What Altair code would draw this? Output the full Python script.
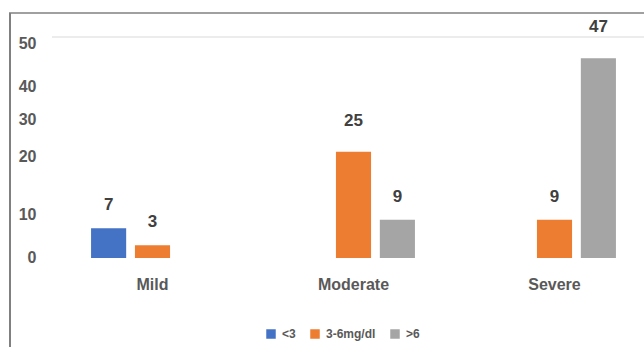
import altair as alt
import pandas as pd

# Patients per severity level, split by serum level group
categories = ["Mild", "Moderate", "Severe"]
groups = ["<3", "3-6mg/dl", ">6"]
below_3 = [7, None, None]
from_3_to_6 = [3, 25, 9]
above_6 = [None, 9, 47]
colors = ["#4472C4", "#ED7D31", "#A5A5A5"]

y_ticks = [0, 10, 20, 30, 40, 50]
y_top = 52

rows = []
for name, series in zip(groups, [below_3, from_3_to_6, above_6]):
    for cat, v in zip(categories, series):
        if v is not None:
            rows.append({"severity": cat, "group": name, "value": v})
df = pd.DataFrame(rows)

FONT = "Liberation Sans"
AXIS_GREY = "#595959"
GRID = "#d9d9d9"

x_enc = alt.X(
    "severity:N",
    sort=categories,
    scale=alt.Scale(range=[0, 603], paddingInner=0, paddingOuter=0),
    axis=alt.Axis(
        title=None, ticks=False, domain=False, labelAngle=0, labelPadding=18,
        labelFont=FONT, labelFontSize=16, labelFontWeight="bold", labelColor=AXIS_GREY,
    ),
)
xoff_enc = alt.XOffset(
    "group:N", sort=groups,
    scale=alt.Scale(domain=groups, paddingInner=0.2, paddingOuter=0.89),
)
y_scale = alt.Scale(domain=[0, y_top], nice=False, zero=True)

y_axis = alt.Axis(
    values=y_ticks, title=None, ticks=False, domain=False, labelPadding=16,
    labelFont=FONT, labelFontSize=16, labelFontWeight="bold", labelColor=AXIS_GREY,
    labelOverlap=False, labelBound=False, gridColor=GRID, gridWidth=1,
    gridOpacity={"condition": {"test": "datum.value == 30 || datum.value == 50", "value": 0}, "value": 1},
    labelOffset={
        "condition": [
            {"test": "datum.value == 30", "value": -11},
            {"test": "datum.value == 20", "value": -17},
            {"test": "datum.value == 40 || datum.value == 50", "value": -2},
        ],
        "value": -1,
    },
)

bars = alt.Chart(df).mark_bar().encode(
    x=x_enc,
    xOffset=xoff_enc,
    y=alt.Y("value:Q", scale=y_scale, axis=y_axis),
    color=alt.Color(
        "group:N",
        scale=alt.Scale(domain=groups, range=colors),
        legend=alt.Legend(
            orient="none", legendX=213, legendY=291, direction="horizontal",
            title=None, symbolType="square", symbolSize=90, symbolStrokeWidth=0,
            labelFont=FONT, labelFontSize=12, labelFontWeight="bold",
            labelColor=AXIS_GREY, columnPadding=13, labelOffset=5,
        ),
    ),
)

labels = alt.Chart(df).mark_text(
    baseline="middle", font=FONT, fontSize=17, fontWeight="bold", color="#404040",
    dy=alt.expr("datum.value >= 10 ? -31 : -23"),
).encode(
    x=x_enc,
    xOffset=xoff_enc,
    y=alt.Y("value:Q", scale=y_scale),
    text=alt.Text("value:Q"),
)

# Top grid line at the upper end of the value scale
top_grid = alt.Chart(alt.Data(values=[{"k": 0}])).mark_rule(color=GRID, strokeWidth=1).encode(
    y=alt.datum(y_top, scale=y_scale)
)

# Outer frame lines along the left and top edges
frame = alt.Data(values=[{"k": 0}])
frame_top = alt.Chart(frame).mark_rule(color="#808080", strokeWidth=1.5).encode(
    x=alt.value(-43), x2=alt.value(600), y=alt.value(-24)
)
frame_left = alt.Chart(frame).mark_rule(color="#808080", strokeWidth=2).encode(
    x=alt.value(-42), y=alt.value(-24), y2=alt.value(320)
)

chart = alt.layer(top_grid, bars, labels, frame_top, frame_left).properties(
    width=592,
    height=221,
    autosize=alt.AutoSizeParams(type="none"),
    padding={"left": 52, "top": 37, "right": 0, "bottom": 89},
).configure_view(stroke=None)

chart.save("out.html", embed_options={"renderer": "svg", "actions": False})
